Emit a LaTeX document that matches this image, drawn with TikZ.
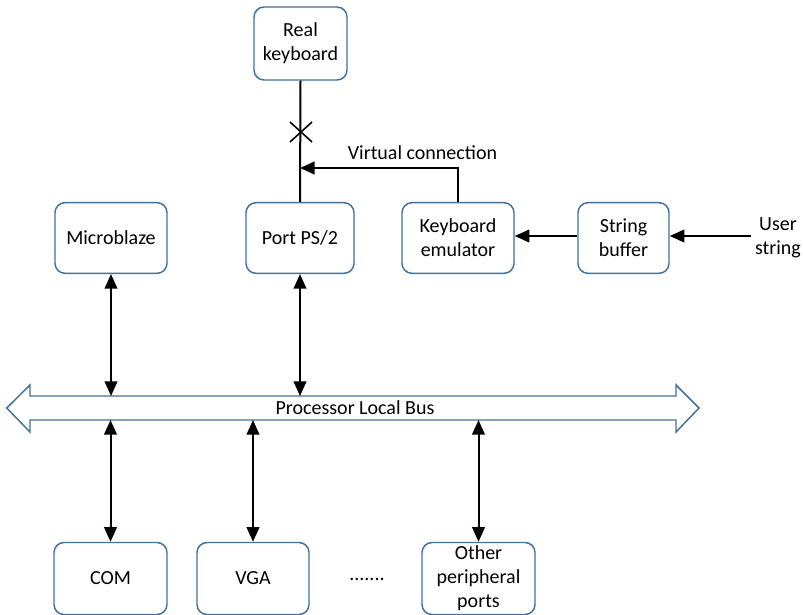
\documentclass[tikz,border=0pt]{standalone}
\usepackage{fontspec}
\setmainfont{Carlito}
\usetikzlibrary{arrows.meta}
\definecolor{boxblue}{RGB}{65,113,156}
\tikzset{
  blk/.style={draw=boxblue, line width=1.1pt, rounded corners=7.5pt, fill=white,
    align=center, inner sep=0pt, font=\fontsize{15}{18}\selectfont},
  conn/.style={line width=1.5pt, draw=black},
  tip/.style={-{Triangle[length=11pt,width=9.5pt]}},
  tips/.style={{Triangle[length=11pt,width=9.5pt]}-{Triangle[length=11pt,width=9.5pt]}},
  lbl/.style={font=\fontsize{15}{18}\selectfont, align=center, inner sep=0pt},
}
\begin{document}
\begin{tikzpicture}[x=0.75pt,y=-0.75pt]
\useasboundingbox (0,0) rectangle (803,614);
% boxes
\node[blk, minimum width=69.75pt, minimum height=54.75pt] (kb) at (300.5,43.5) {Real\\keyboard};
\node[blk, minimum width=84pt, minimum height=53pt] (micro) at (111,238) {Microblaze};
\node[blk, minimum width=81pt, minimum height=53pt] (ps2) at (300,238) {Port PS/2};
\node[blk, minimum width=84pt, minimum height=53pt] (emu) at (458,238) {Keyboard\\emulator};
\node[blk, minimum width=68.25pt, minimum height=53pt] (sbuf) at (623.5,238) {String\\buffer};
\node[lbl] (user) at (778,238) {User\\string};
\node[blk, minimum width=84.75pt, minimum height=54pt] (com) at (110.5,578.5) {COM};
\node[blk, minimum width=84pt, minimum height=54pt] (vga) at (253,578.5) {VGA};
\node[blk, minimum width=84.75pt, minimum height=54pt] (other) at (478.5,578.5) {Other\\peripheral\\ports};
\node[lbl] (dots) at (367,579) {.......};
% bus
\draw[draw=boxblue, line width=1.1pt, fill=white]
  (6.7,408) -- (30,385) -- (30,396) -- (676,396) -- (676,385) -- (699,408)
  -- (676,432) -- (676,420) -- (30,420) -- (30,432) -- cycle;
\coordinate (busT) at (355,396);
\coordinate (busB) at (355,420);
\node[lbl] (bus) at (355,408) {Processor Local Bus};
% connections to bus
\draw[conn, tips] (micro.south) -- (micro.south |- busT);
\draw[conn, tips] (ps2.south) -- (ps2.south |- busT);
\draw[conn, tips] (com.north |- busB) -- (com.north);
\draw[conn, tips] (vga.north |- busB) -- (vga.north);
\draw[conn, tips] (other.north |- busB) -- (other.north);
% real keyboard line with cross
\draw[conn] (kb.south) -- (ps2.north);
\coordinate (x) at (301,132);
\draw[line width=1.2pt] ([shift={(-11,-10)}]x) -- ([shift={(11,10)}]x)
  ([shift={(-11,10)}]x) -- ([shift={(11,-10)}]x);
% virtual connection
\coordinate (vc) at (458,168);
\draw[conn, tip] (emu.north) -- (vc) -- (ps2.north |- vc);
\node[lbl] (vclbl) at (422.5,153) {Virtual connection};
% string path
\draw[conn, tip] (sbuf.west |- 0,236) -- (emu.east |- 0,236);
\coordinate (ustart) at (751,236);
\draw[conn, tip] (ustart) -- (sbuf.east |- ustart);
\end{tikzpicture}
\end{document}
